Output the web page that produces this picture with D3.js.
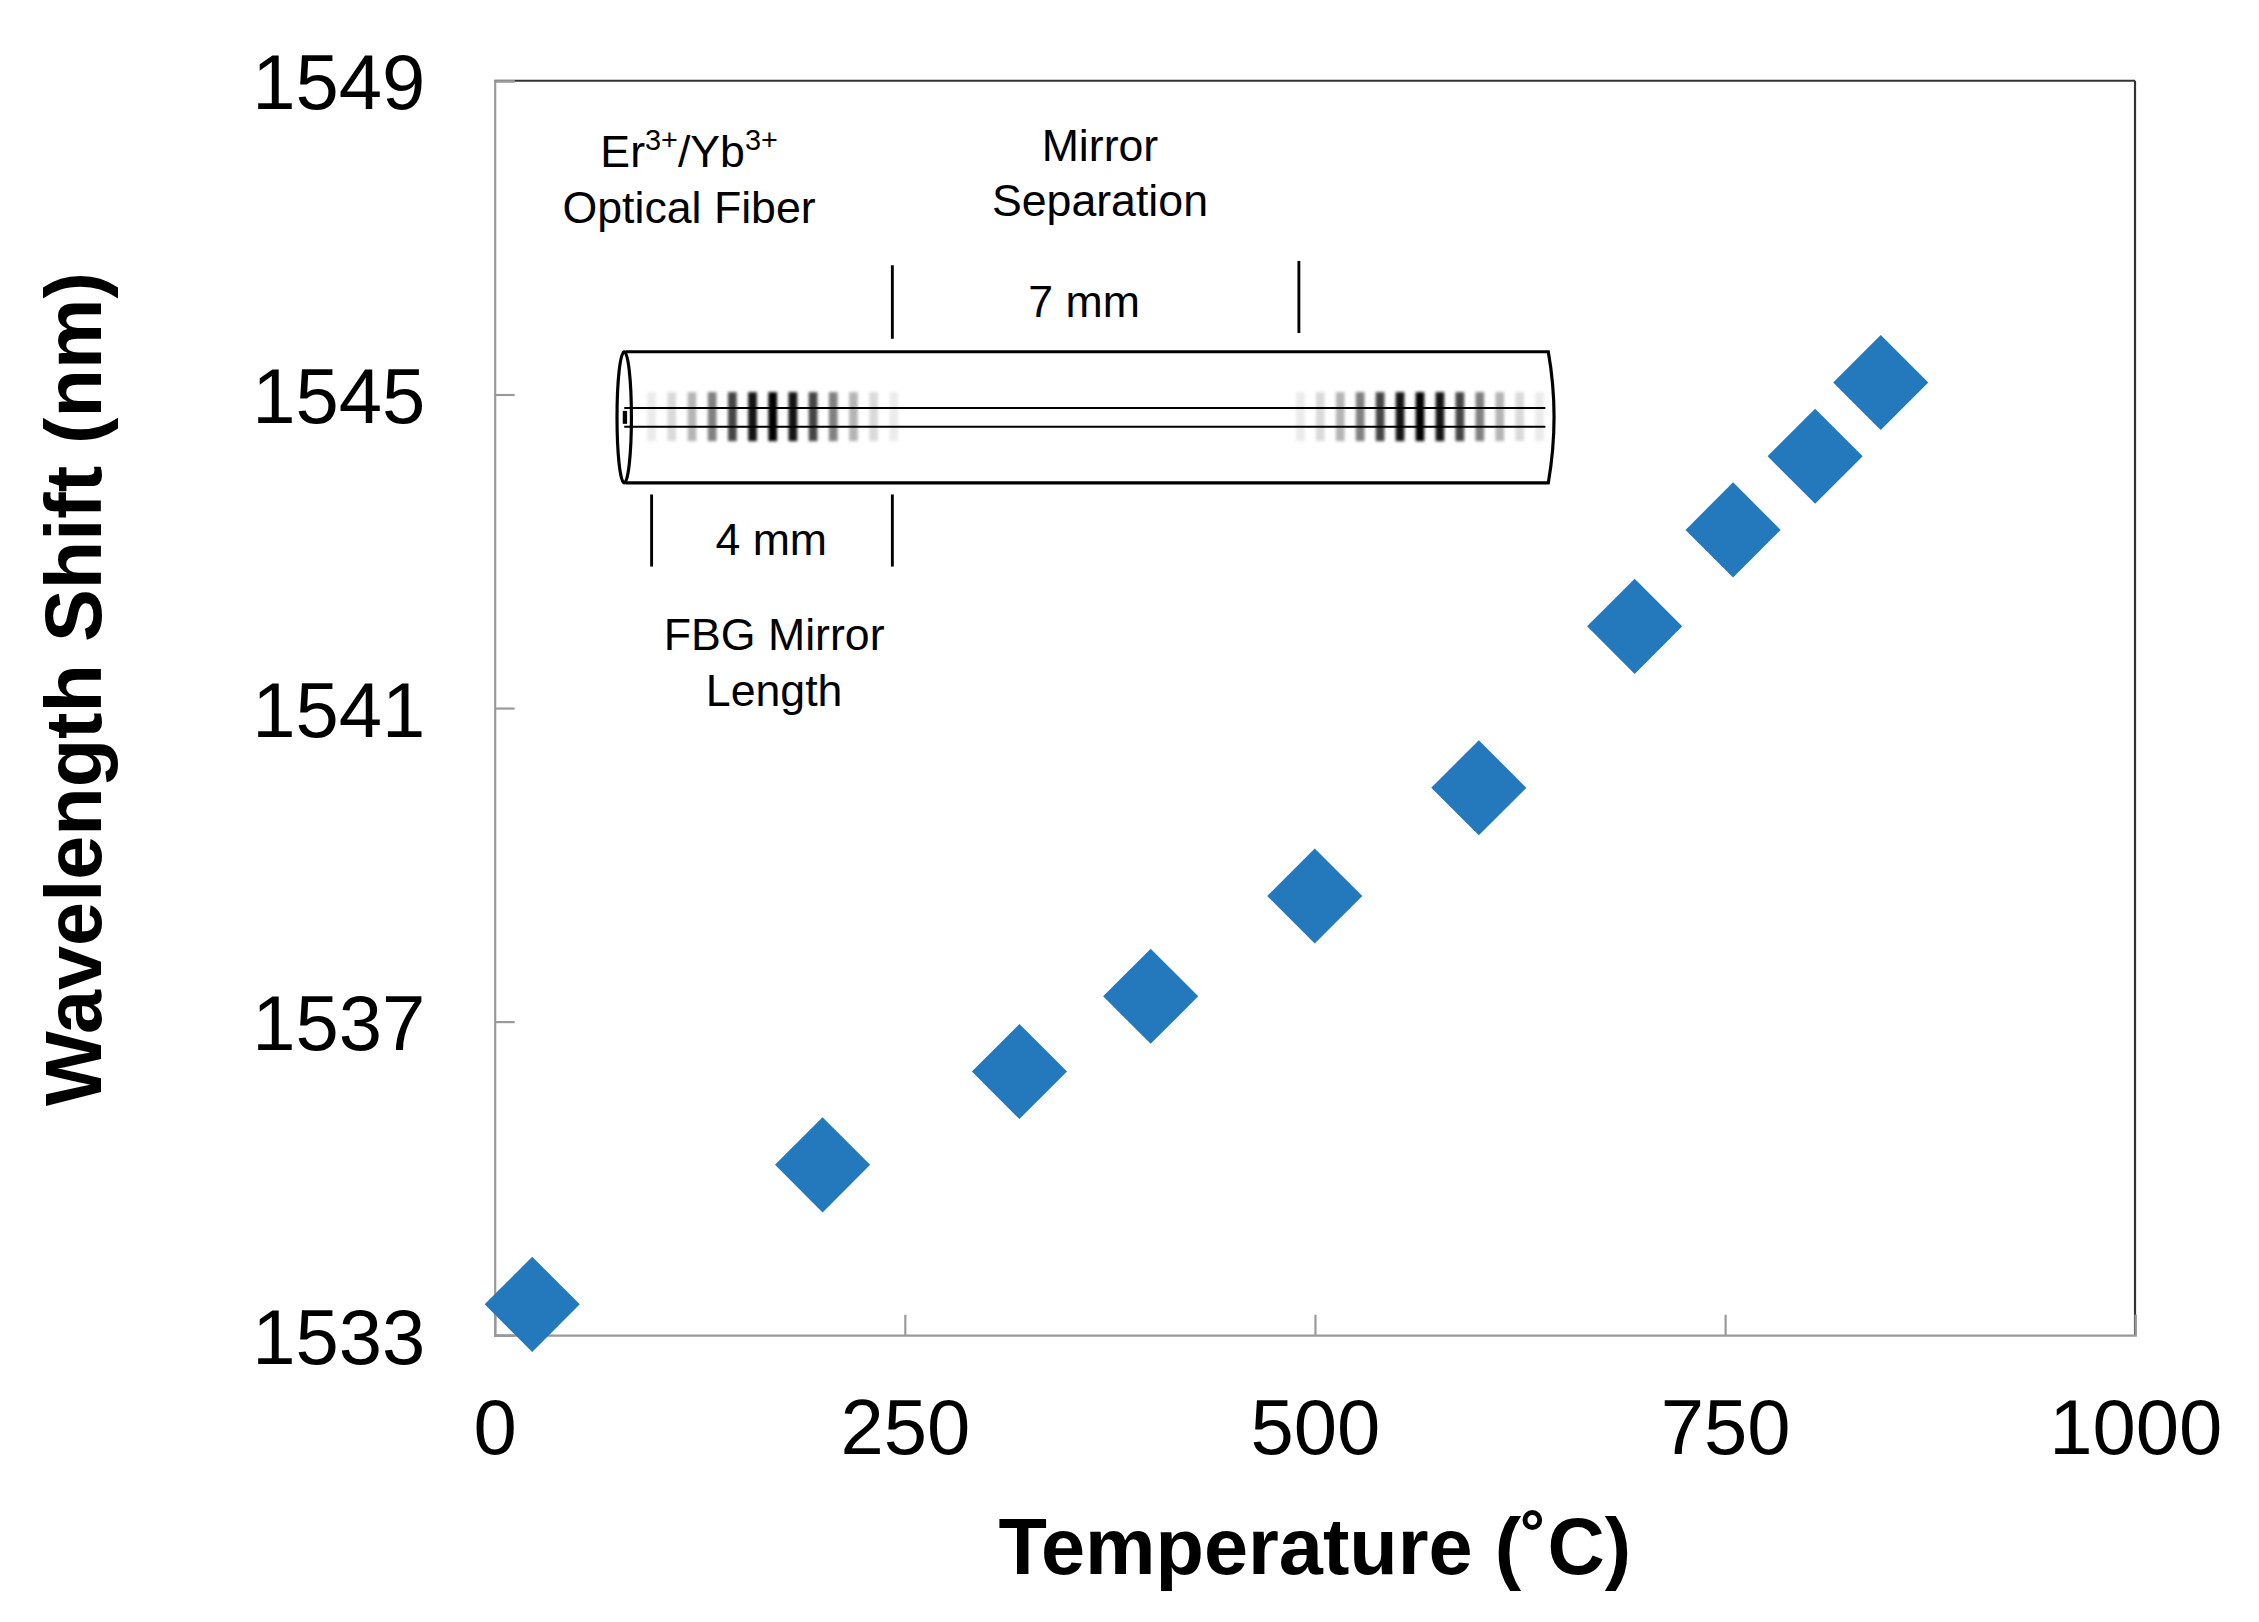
<!DOCTYPE html>
<html><head><meta charset="utf-8">
<script src="https://cdn.jsdelivr.net/npm/d3@7"></script>
<style>body{margin:0;background:#fff}svg{display:block;font-family:"Liberation Sans",Arial,sans-serif}</style>
</head><body><div id="chart"></div>
<script>
const temperature = [23, 200, 320, 400, 500, 600, 695, 755, 805, 845];
const wavelength = [1533.39, 1535.17, 1536.36, 1537.32, 1538.6, 1539.98, 1542.04, 1543.27, 1544.21, 1545.15];
const xTicks = [0, 250, 500, 750, 1000];
const yTicks = [1533, 1537, 1541, 1545, 1549];

const k = 2259 / 1567;
const margin = {top: 56, right: 79, bottom: 194, left: 343},
      W = 1560, H = 1120,
      width = W - margin.left - margin.right,
      height = H - margin.top - margin.bottom;

const svgRoot = d3.select('#chart').append('svg')
  .attr('width', 2259).attr('height', 1622);
svgRoot.append('defs').append('filter').attr('id', 'blur')
  .append('feGaussianBlur').attr('stdDeviation', 1.2);
const root = svgRoot.append('g').attr('transform', `scale(${k})`);
const svg = root.append('g').attr('transform', `translate(${margin.left},${margin.top})`);

/// SETUP scales
const x = d3.scaleLinear().domain([0, 1000]).range([0, width]);
const y = d3.scaleLinear().domain([1533, 1549]).range([height, 0]);

/// FRAME
svg.append('line').attr('x1', 0).attr('x2', width).attr('y1', 0).attr('y2', 0).attr('stroke', '#333').attr('stroke-width', 1.5);
svg.append('line').attr('x1', width).attr('x2', width).attr('y1', 0).attr('y2', height).attr('stroke', '#333').attr('stroke-width', 1.5);

/// AXES
const gx = svg.append('g').attr('transform', `translate(0,${height})`)
  .call(d3.axisBottom(x).tickValues(xTicks).tickFormat(d3.format('d')).tickSize(-14).tickPadding(44));
const gy = svg.append('g')
  .call(d3.axisLeft(y).tickValues(yTicks).tickFormat(d3.format('d')).tickSize(-14).tickPadding(48));
[gx, gy].forEach(g => {
  g.select('.domain').attr('stroke', '#999').attr('stroke-width', 1.5);
  g.selectAll('.tick line').attr('stroke', '#999').attr('stroke-width', 1.5);
  g.selectAll('text').attr('font-size', 54).attr('fill', '#000').attr('font-family', '"Liberation Sans",Arial,sans-serif');
});
gx.selectAll('text').attr('dy', '0.71em');
gy.selectAll('text').attr('dy', '0.36em');

/// TITLES
root.append('text').attr('x', 912).attr('y', 1092).attr('text-anchor', 'middle')
  .attr('font-size', 55).attr('font-weight', 'bold').text('Temperature (˚C)');
root.append('text').attr('transform', 'translate(70,478) rotate(-90)').attr('text-anchor', 'middle')
  .attr('font-size', 55).attr('font-weight', 'bold').text('Wavelength Shift (nm)');

/// POINTS
const diamond = d3.symbol().type(d3.symbolSquare).size(2 * 33 * 33);
svg.selectAll('.pt').data(temperature).join('path')
  .attr('class', 'pt')
  .attr('d', diamond)
  .attr('transform', (d, i) => `translate(${x(d)},${y(wavelength[i])}) rotate(45)`)
  .attr('fill', '#2479bd');

/// INSET diagram
const ins = root.append('g');
const grating = (x0, x1) => {
  const n = 12, step = (x1 - x0) / n, c = x0 + (x1 - x0) * 0.5;
  const g = ins.append('g').attr('filter', 'url(#blur)');
  for (let i = 0; i <= n; i++) {
    const xi = x0 + i * step;
    const a = Math.exp(-Math.pow((xi - c) / ((x1 - x0) * 0.3), 2));
    g.append('rect').attr('x', xi - 3).attr('y', 272).attr('width', 6).attr('height', 34)
      .attr('fill', '#000').attr('opacity', Math.max(0.08, a));
  }
};
grating(452, 620);
grating(902, 1068);
ins.append('path')
  .attr('d', 'M434,244 L1074,244 Q1082,289 1074,335 L434,335')
  .attr('fill', 'none').attr('stroke', '#000').attr('stroke-width', 2.2);
ins.append('ellipse').attr('cx', 433).attr('cy', 289.5).attr('rx', 5).attr('ry', 45.5)
  .attr('fill', 'none').attr('stroke', '#000').attr('stroke-width', 2.2);
[283, 296].forEach(v => ins.append('line').attr('x1', 433).attr('x2', 1072).attr('y1', v).attr('y2', v)
  .attr('stroke', '#000').attr('stroke-width', 1.5));
ins.append('rect').attr('x', 432).attr('y', 285).attr('width', 3).attr('height', 9).attr('fill', '#000');
[[619, 184, 235], [901, 181, 231], [452, 343, 393], [619, 343, 393]].forEach(([lx, a, b]) =>
  ins.append('line').attr('x1', lx).attr('x2', lx).attr('y1', a).attr('y2', b).attr('stroke', '#000').attr('stroke-width', 2));

const lab = (t, lx, ly) => ins.append('text').attr('x', lx).attr('y', ly).attr('text-anchor', 'middle')
  .attr('font-size', 31).text(t);
const er = ins.append('text').attr('x', 478).attr('y', 116).attr('text-anchor', 'middle').attr('font-size', 31);
er.append('tspan').text('Er');
er.append('tspan').attr('dy', -12).attr('font-size', 20).text('3+');
er.append('tspan').attr('dy', 12).text('/Yb');
er.append('tspan').attr('dy', -12).attr('font-size', 20).text('3+');
lab('Optical Fiber', 478, 155);
lab('Mirror', 763, 112);
lab('Separation', 763, 150);
lab('7 mm', 752, 220);
lab('4 mm', 535, 385);
lab('FBG Mirror', 537, 451);
lab('Length', 537, 490);
</script></body></html>
